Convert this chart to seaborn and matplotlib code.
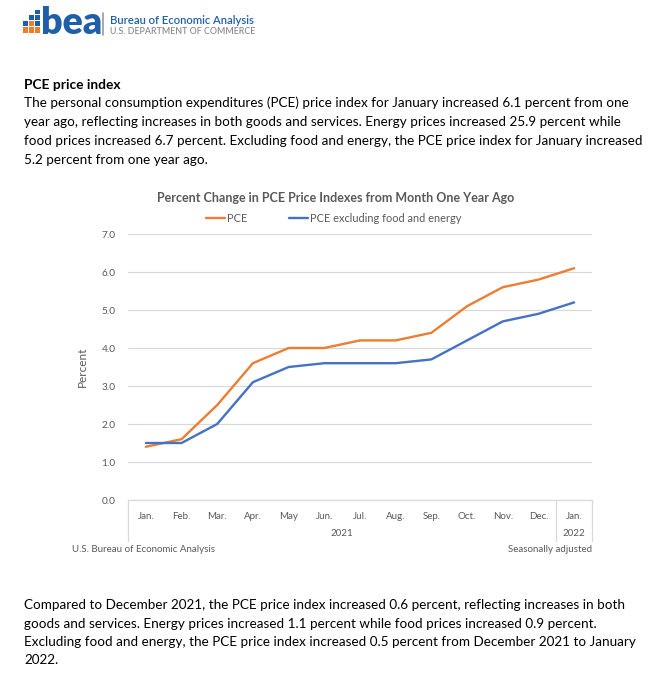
import matplotlib
matplotlib.use("Agg")
import matplotlib.pyplot as plt
import seaborn as sns
import pandas as pd
import numpy as np
from matplotlib.patches import Rectangle
from matplotlib.lines import Line2D
from matplotlib.transforms import blended_transform_factory

# ---------------- data ----------------
months = ["Jan.", "Feb.", "Mar.", "Apr.", "May", "Jun.", "Jul.", "Aug.",
          "Sep.", "Oct.", "Nov.", "Dec.", "Jan."]
year_labels = ["2021", "2022"]
pce = [1.4, 1.6, 2.5, 3.6, 4.0, 4.0, 4.2, 4.2, 4.4, 5.1, 5.6, 5.8, 6.1]
pce_core = [1.5, 1.5, 2.0, 3.1, 3.5, 3.6, 3.6, 3.6, 3.7, 4.2, 4.7, 4.9, 5.2]
series_names = ["PCE", "PCE excluding food and energy"]
y_ticks = [0, 1, 2, 3, 4, 5, 6, 7]

heading = "PCE price index"
para1 = [
    "The personal consumption expenditures (PCE) price index for January increased 6.1 percent from one",
    "year ago, reflecting increases in both goods and services. Energy prices increased 25.9 percent while",
    "food prices increased 6.7 percent. Excluding food and energy, the PCE price index for January increased",
    "5.2 percent from one year ago.",
]
para2 = [
    "Compared to December 2021, the PCE price index increased 0.6 percent, reflecting increases in both",
    "goods and services. Energy prices increased 1.1 percent while food prices increased 0.9 percent.",
    "Excluding food and energy, the PCE price index increased 0.5 percent from December 2021 to January",
    "2022.",
]
chart_title = "Percent Change in PCE Price Indexes from Month One Year Ago"

# ---------------- style ----------------
sns.set_theme(style="white")
plt.rcParams['font.family'] = ['Lato', 'DejaVu Sans']

ORANGE = "#ED7D31"
BLUE = "#4472C4"
GRAY = "#595959"
GRID = "#D9D9D9"

W, H = 663, 691
fig = plt.figure(figsize=(W / 100, H / 100), dpi=100)
fig.patch.set_facecolor("white")


def fx(x):
    return x / W


def fy(y):
    return 1 - y / H


# ---------------- logo ----------------
logo_blue = "#1F5FAA"
logo_orange = "#F07D2A"
icon = [
    (23, 27, 5, 6, logo_orange), (29, 27, 5, 6, logo_orange), (35, 27, 5, 6, logo_orange),
    (23, 21, 5, 5, logo_blue), (29, 21, 5, 5, logo_orange), (35, 21, 5, 5, logo_blue),
    (29, 15, 5, 5, logo_blue), (35, 15, 5, 5, logo_blue), (35, 10, 5, 4, logo_blue),
]
for (x, y, w, h, c) in icon:
    fig.patches.append(Rectangle((fx(x), fy(y + h)), w / W, h / H,
                                 transform=fig.transFigure, color=c, lw=0))
fig.text(fx(41), fy(23), "bea", fontsize=27, fontweight="heavy", color=logo_blue,
         ha="left", va="center")
fig.lines.append(Line2D([fx(103), fx(103)], [fy(13), fy(35)], transform=fig.transFigure,
                        color="#9A9A9A", lw=1.2))
fig.text(fx(110), fy(20), "Bureau of Economic Analysis", fontsize=8.1, color=logo_blue,
         ha="left", va="center", fontweight="semibold")
fig.text(fx(110), fy(32), "U.S. DEPARTMENT OF COMMERCE", fontsize=6.4, color="#8C8C8C",
         ha="left", va="center", fontweight="semibold")

# ---------------- text ----------------
fig.text(fx(24), fy(85), heading, fontsize=9.9, fontweight="bold", color="black",
         ha="left", va="center")
for i, line in enumerate(para1):
    fig.text(fx(24), fy(103 + 19 * i), line, fontsize=9.75, color="black",
             ha="left", va="center")
for i, line in enumerate(para2):
    fig.text(fx(24), fy(605 + 18.5 * i), line, fontsize=9.75, color="black",
             ha="left", va="center")

# ---------------- chart ----------------
ax = fig.add_axes([fx(128), fy(500), fx(592) - fx(128), fy(234) - fy(500)])
df = pd.DataFrame({
    "pos": list(range(len(months))) * 2,
    "value": pce + pce_core,
    "series": [series_names[0]] * len(pce) + [series_names[1]] * len(pce_core),
})
sns.lineplot(data=df, x="pos", y="value", hue="series", hue_order=series_names,
             palette=[ORANGE, BLUE], linewidth=1.7, ax=ax, legend=False)

ax.set_xlim(-0.5, len(months) - 0.5)
ax.set_ylim(0, 7)
ax.set_yticks(y_ticks)
ax.set_yticklabels([f"{v:.1f}" for v in y_ticks])
ax.set_xticks(range(len(months)))
ax.set_xticklabels(months)
ax.set_xlabel("")
ax.set_ylabel("")
ax.yaxis.grid(True, color=GRID, lw=0.9)
ax.xaxis.grid(False)
for s in ["top", "right", "left"]:
    ax.spines[s].set_visible(False)
ax.spines["bottom"].set_color(GRID)
ax.spines["bottom"].set_linewidth(0.9)
ax.tick_params(axis="y", length=0, pad=9, labelsize=7.3, labelcolor=GRAY)
ax.tick_params(axis="x", length=0, pad=8.5, labelsize=7.0, labelcolor=GRAY)

trans = blended_transform_factory(ax.transData, ax.transAxes)
box_bottom = -41 / 266
for xv in [-0.5, 11.5, len(months) - 0.5]:
    ax.plot([xv, xv], [0, box_bottom], transform=trans, color=GRID, lw=0.9, clip_on=False)
ax.text(5.5, -34 / 266, year_labels[0], transform=trans, ha="center", va="center",
        fontsize=7.0, color=GRAY)
ax.text(12, -34 / 266, year_labels[1], transform=trans, ha="center", va="center",
        fontsize=7.0, color=GRAY)

fig.text(fx(82), fy(367), "Percent", rotation=90, fontsize=8.5, color=GRAY,
         ha="center", va="center")
fig.text(fx(336), fy(198), chart_title, fontsize=9.0, fontweight="bold", color=GRAY,
         ha="center", va="center")

handles = [Line2D([], [], color=ORANGE, lw=1.7), Line2D([], [], color=BLUE, lw=1.7)]
fig.legend(handles, series_names, loc="center", bbox_to_anchor=(fx(334), fy(218)),
           ncol=2, frameon=False, handlelength=1.7, handletextpad=0.2,
           columnspacing=3.8, fontsize=7.9, labelcolor=GRAY)

fig.text(fx(72), fy(550), "U.S. Bureau of Economic Analysis", fontsize=7.0, color=GRAY,
         ha="left", va="center")
fig.text(fx(592), fy(550), "Seasonally adjusted", fontsize=7.0, color=GRAY,
         ha="right", va="center")

fig.savefig("out.png", dpi=100, facecolor="white")
